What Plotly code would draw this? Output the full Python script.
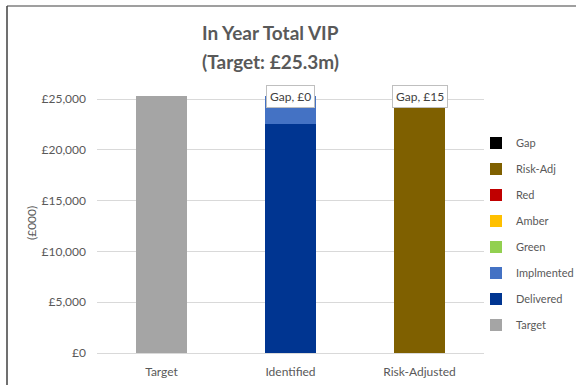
import plotly.graph_objects as go

# Categories and stacked series (values in £000)
categories = ["Target", "Identified", "Risk-Adjusted"]
target = [25300, 0, 0]
delivered = [0, 22540, 0]
implemented = [0, 2760, 0]
green = [0, 0, 0]
amber = [0, 0, 0]
red = [0, 0, 0]
risk_adj = [0, 0, 25285]
gap = [0, 0, 15]

y_ticks = [0, 5000, 10000, 15000, 20000, 25000]
y_tick_text = ["£0", "£5,000", "£10,000", "£15,000", "£20,000", "£25,000"]

series = [
    ("Target", target, "#A5A5A5"),
    ("Delivered", delivered, "#003591"),
    ("Implmented", implemented, "#4472C4"),
    ("Green", green, "#92D050"),
    ("Amber", amber, "#FFC000"),
    ("Red", red, "#C00000"),
    ("Risk-Adj", risk_adj, "#7F6000"),
    ("Gap", gap, "#000000"),
]

FONT = "Lato"
GREY = "#595959"

# pixel geometry of the figure
W, H = 576, 385
L, T, B = 97, 89, 32
PLOT_R = 484
PAPER_W = W - L
PLOT_H = H - T - B


def px_x(px):
    return (px - L) / PAPER_W


def px_y(py):
    return (H - B - py) / PLOT_H


fig = go.Figure()
n = len(series)
for i, (name, vals, col) in enumerate(series):
    fig.add_trace(go.Bar(
        x=categories, y=vals, name=name, marker_color=col,
        marker_line_width=0, legendgroup=name, legendrank=n - i,
    ))

# "Gap" data labels at the middle of the gap segment on the two right-hand bars
for i, cat in enumerate(categories[1:], start=1):
    base = sum(s[1][i] for s in series[:-1])
    fig.add_annotation(
        x=cat, y=base + gap[i] / 2, text=f"Gap, £{gap[i]:,}",
        showarrow=False, bgcolor="white", bordercolor="#BFBFBF", borderwidth=1,
        borderpad=3, font=dict(family=FONT, size=12, color="#404040"),
    )

# Two-line chart title
for text, py in [("<b>In Year Total VIP</b>", 33), ("<b>(Target: £25.3m)</b>", 62)]:
    fig.add_annotation(xref="paper", yref="paper", x=px_x(270), y=px_y(py),
                       text=text, showarrow=False, xanchor="center", yanchor="middle",
                       font=dict(family=FONT, size=19, color=GREY))

# Y-axis title
fig.add_annotation(xref="paper", yref="paper", x=px_x(31), y=px_y(223),
                   text="(£000)", textangle=-90, showarrow=False,
                   xanchor="center", yanchor="middle",
                   font=dict(family=FONT, size=12, color=GREY))

# Chart frame (top and left edges)
fig.add_shape(type="line", xref="paper", yref="paper",
              x0=px_x(7), x1=px_x(W), y0=px_y(6), y1=px_y(6),
              line=dict(color="#7F7F7F", width=1.5))
fig.add_shape(type="line", xref="paper", yref="paper",
              x0=px_x(7), x1=px_x(7), y0=px_y(6), y1=px_y(H),
              line=dict(color="#404040", width=1.5))

fig.update_layout(
    width=W, height=H,
    margin=dict(l=L, r=0, t=T, b=B, autoexpand=False),
    barmode="stack", bargap=0.6,
    plot_bgcolor="white", paper_bgcolor="white",
    font=dict(family=FONT, size=12, color=GREY),
    showlegend=True,
    legend=dict(traceorder="grouped", tracegroupgap=7, x=px_x(476), xanchor="left",
                y=px_y(234), yanchor="middle", itemwidth=30, bgcolor="rgba(0,0,0,0)",
                font=dict(family=FONT, size=11, color=GREY)),
    xaxis=dict(domain=[0, (PLOT_R - L) / PAPER_W], showline=True, linecolor="#D9D9D9",
               linewidth=1, ticks="", ticklabelstandoff=8, automargin=False,
               tickfont=dict(family=FONT, size=12, color=GREY)),
    yaxis=dict(range=[0, 26000], tickvals=y_ticks, ticktext=y_tick_text,
               showgrid=True, gridcolor="#D9D9D9", gridwidth=1, zeroline=False,
               automargin=False,
               tickfont=dict(family=FONT, size=12, color=GREY), ticks="", ticklabelstandoff=10),
)

fig.write_html("out.html")
